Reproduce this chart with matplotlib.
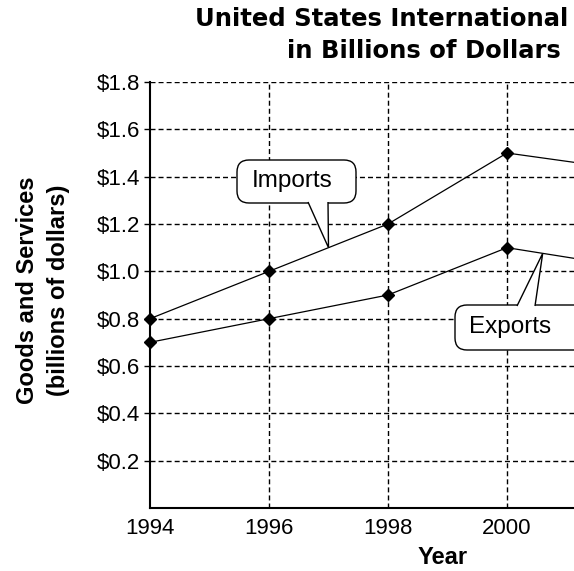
import matplotlib.pyplot as plt
from matplotlib.ticker import FuncFormatter
from matplotlib.patches import FancyBboxPatch, Polygon
from matplotlib.transforms import IdentityTransform

# datos
anios = [1994, 1996, 1998, 2000, 2002]
importaciones = [0.8, 1.0, 1.2, 1.5, 1.43]
exportaciones = [0.7, 0.8, 0.9, 1.1, 1.02]
y_ticks = [0.2, 0.4, 0.6, 0.8, 1.0, 1.2, 1.4, 1.6, 1.8]
x_ticks = [1994, 1996, 1998, 2000]
x_grid = [1996, 1998, 2000, 2002]

plt.rcParams['font.family'] = ['Liberation Sans', 'DejaVu Sans']

W, H = 574, 571
fig = plt.figure(figsize=(W / 100, H / 100), dpi=100)
# el grafico original esta recortado a la derecha
ax = fig.add_axes([150 / W, 1 - 508 / H, 8 * 59.5 / W, (508 - 82) / H])
ax.set_xlim(1994, 2002)
ax.set_ylim(0, 1.8)

# cuadricula punteada
for y in y_ticks:
    ax.axhline(y, color='black', lw=1, ls=(0, (3.6, 2.2)), zorder=1)
for x in x_grid:
    ax.axvline(x, color='black', lw=1, ls=(0, (3.6, 2.2)), zorder=1)

ax.plot(anios, importaciones, color='black', lw=0.9, marker='D', ms=6, zorder=3, clip_on=False)
ax.plot(anios, exportaciones, color='black', lw=0.9, marker='D', ms=6, zorder=3, clip_on=False)

ax.spines['top'].set_visible(False)
ax.spines['right'].set_visible(False)
ax.spines['left'].set_linewidth(1.5)
ax.spines['bottom'].set_linewidth(1.5)
ax.set_yticks(y_ticks)
ax.yaxis.set_major_formatter(FuncFormatter(lambda v, p: '$%.1f' % v))
ax.set_xticks(x_ticks)
ax.tick_params(axis='y', length=4, width=1, labelsize=16, pad=3)
ax.tick_params(axis='x', length=0, labelsize=16, pad=7)


def px(x, y):
    # pixeles desde arriba-izquierda -> coordenadas de pantalla
    return (x, H - y)


# etiquetas tipo globo (en pixeles), la punta sale de la linea de datos
def globo(texto, caja, base, punta_datos, tx):
    x0, y0, x1, y1 = caja
    fig.canvas.draw()
    pt = ax.transData.transform(punta_datos)
    p = FancyBboxPatch(px(x0, y1), x1 - x0, y1 - y0,
                       boxstyle='round,pad=0,rounding_size=12',
                       fc='white', ec='black', lw=1, transform=IdentityTransform(),
                       zorder=5)
    fig.add_artist(p)
    bx0, bx1, by = base
    tri = Polygon([px(bx0, by), tuple(pt), px(bx1, by)], closed=False,
                  fc='white', ec='black', lw=1, transform=IdentityTransform(), zorder=6)
    fig.add_artist(tri)
    cy = (y0 + y1) / 2
    fig.text(tx / W, 1 - cy / H, texto, fontsize=17.5, ha='left', va='center',
             zorder=7)


globo('Imports', (237, 160, 356, 203), (308, 328, 202), (1997.0, 1.1), 252)
globo('Exports', (455, 305, 640, 350), (517, 535, 306), (2000.6, 1.076), 469)

# titulo (lo visible en el recorte)
fig.text(195 / W, 1 - 19 / H, 'United States International', fontsize=17.5,
         fontweight='bold', ha='left', va='center', family='DejaVu Sans')
fig.text(287 / W, 1 - 51 / H, 'in Billions of Dollars', fontsize=17.5,
         fontweight='bold', ha='left', va='center', family='DejaVu Sans')
fig.text(28 / W, 1 - 290 / H, 'Goods and Services', rotation=90, fontsize=17,
         fontweight='bold', ha='center', va='center')
fig.text(58 / W, 1 - 290 / H, '(billions of dollars)', rotation=90, fontsize=17,
         fontweight='bold', ha='center', va='center')
fig.text(443 / W, 1 - 557 / H, 'Year', fontsize=17, fontweight='bold',
         ha='center', va='center')

fig.savefig('out.png', dpi=100)
